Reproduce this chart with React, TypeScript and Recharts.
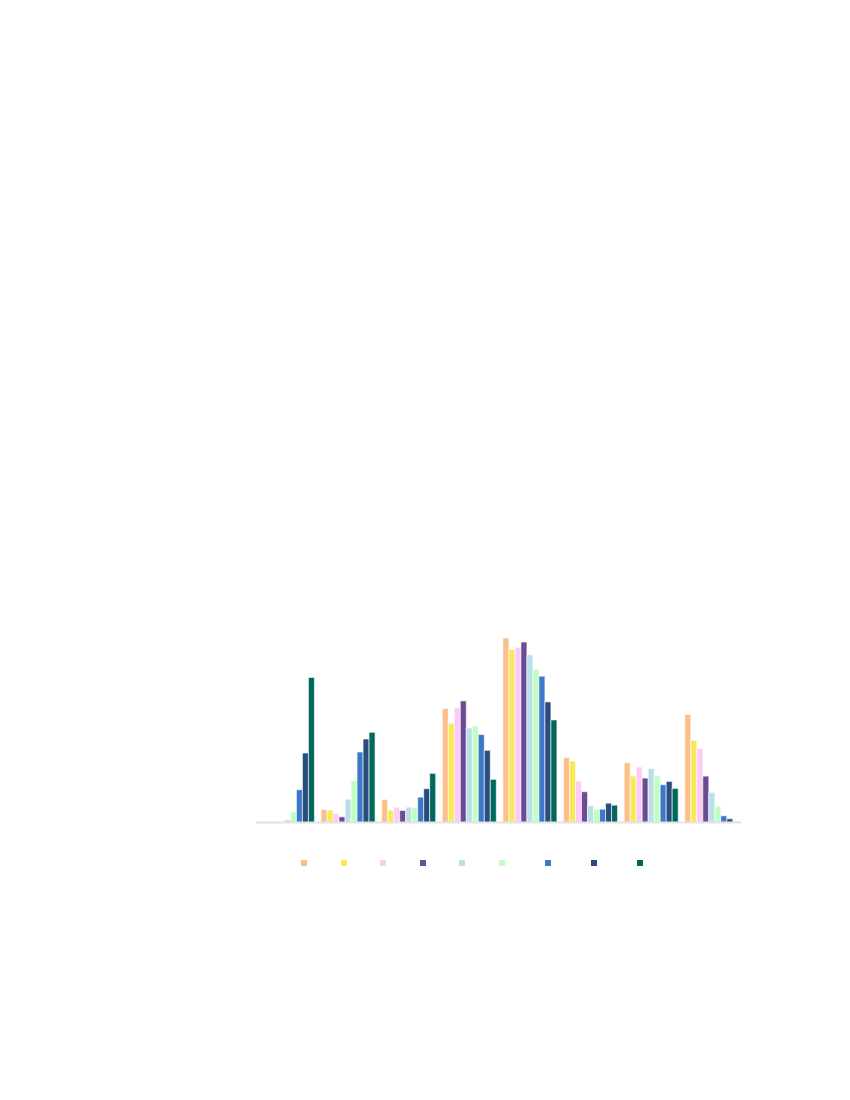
import React from 'react';
import { BarChart, Bar, XAxis, YAxis, Legend } from 'recharts';

const categories = ['A', 'B', 'C', 'D', 'E', 'F', 'G', 'H'];

const seriesNames = ['100', '200', '300', '400', '500', '1000', '2000', '5000', '10000'];

const s1 = [0, 13, 23, 113.7, 184, 64.7, 59.7, 107.7];
const s2 = [0, 12.3, 12.3, 99, 172.7, 61.3, 46.3, 82];
const s3 = [0.2, 9, 15.3, 114.3, 174.7, 41.3, 55.3, 73.7];
const s4 = [0.5, 5.7, 12, 121.3, 180, 30.7, 44.3, 46.3];
const s5 = [2.7, 23.3, 15.3, 94.3, 167.3, 16.7, 53.7, 30];
const s6 = [10.7, 41.7, 14.7, 96.3, 152.7, 13.3, 46.3, 16.3];
const s7 = [32.7, 70.3, 25.3, 87.7, 146, 13.3, 37.7, 6.7];
const s8 = [69.3, 83.3, 33.7, 72, 120.3, 19.3, 41, 3.7];
const s9 = [144.7, 90, 49, 43, 102.3, 17.3, 34, 0.7];

const seriesValues = [s1, s2, s3, s4, s5, s6, s7, s8, s9];

const COLORS = [
  '#fbbf8c', // orange
  '#f9e858', // yellow
  '#fccbf7', // pink
  '#6b4c94', // purple
  '#b9dfe9', // light blue
  '#c2fdc2', // mint
  '#3c78c8', // blue
  '#2b4c7e', // navy
  '#00685c', // teal
];

const data = categories.map((name, i) => {
  const row: Record<string, string | number> = { name };
  seriesValues.forEach((vals, j) => {
    row[`s${j + 1}`] = vals[i];
  });
  return row;
});

export default function App() {
  return (
    <div style={{ width: 834, height: 905, fontFamily: 'Arial, sans-serif' }}>
      <BarChart
        width={834}
        height={905}
        data={data}
        margin={{ top: 614, right: 101, bottom: 42, left: 241.6 }}
        barGap={0}
        barCategoryGap="7.3%"
      >
        <XAxis
          dataKey="name"
          height={30.5}
          axisLine={{ stroke: '#e3e3e3', strokeWidth: 2 }}
          tickLine={false}
          tick={{ fill: '#ffffff', fontSize: 11 }}
        />
        <YAxis width={6.4} domain={[0, 200]} axisLine={false} tickLine={false} tick={false} />
        <Legend
          iconType="square"
          iconSize={6}
          itemSorter="dataKey"
          formatter={(value) => <span style={{ color: '#ffffff', fontSize: 11.7 }}>{value}</span>}
        />
        {seriesNames.map((n, j) => (
          <Bar
            key={n}
            dataKey={`s${j + 1}`}
            name={n}
            fill={COLORS[j]}
            stroke="#ffffff"
            strokeOpacity={0.6}
            strokeWidth={1}
            isAnimationActive={false}
          />
        ))}
      </BarChart>
    </div>
  );
}
